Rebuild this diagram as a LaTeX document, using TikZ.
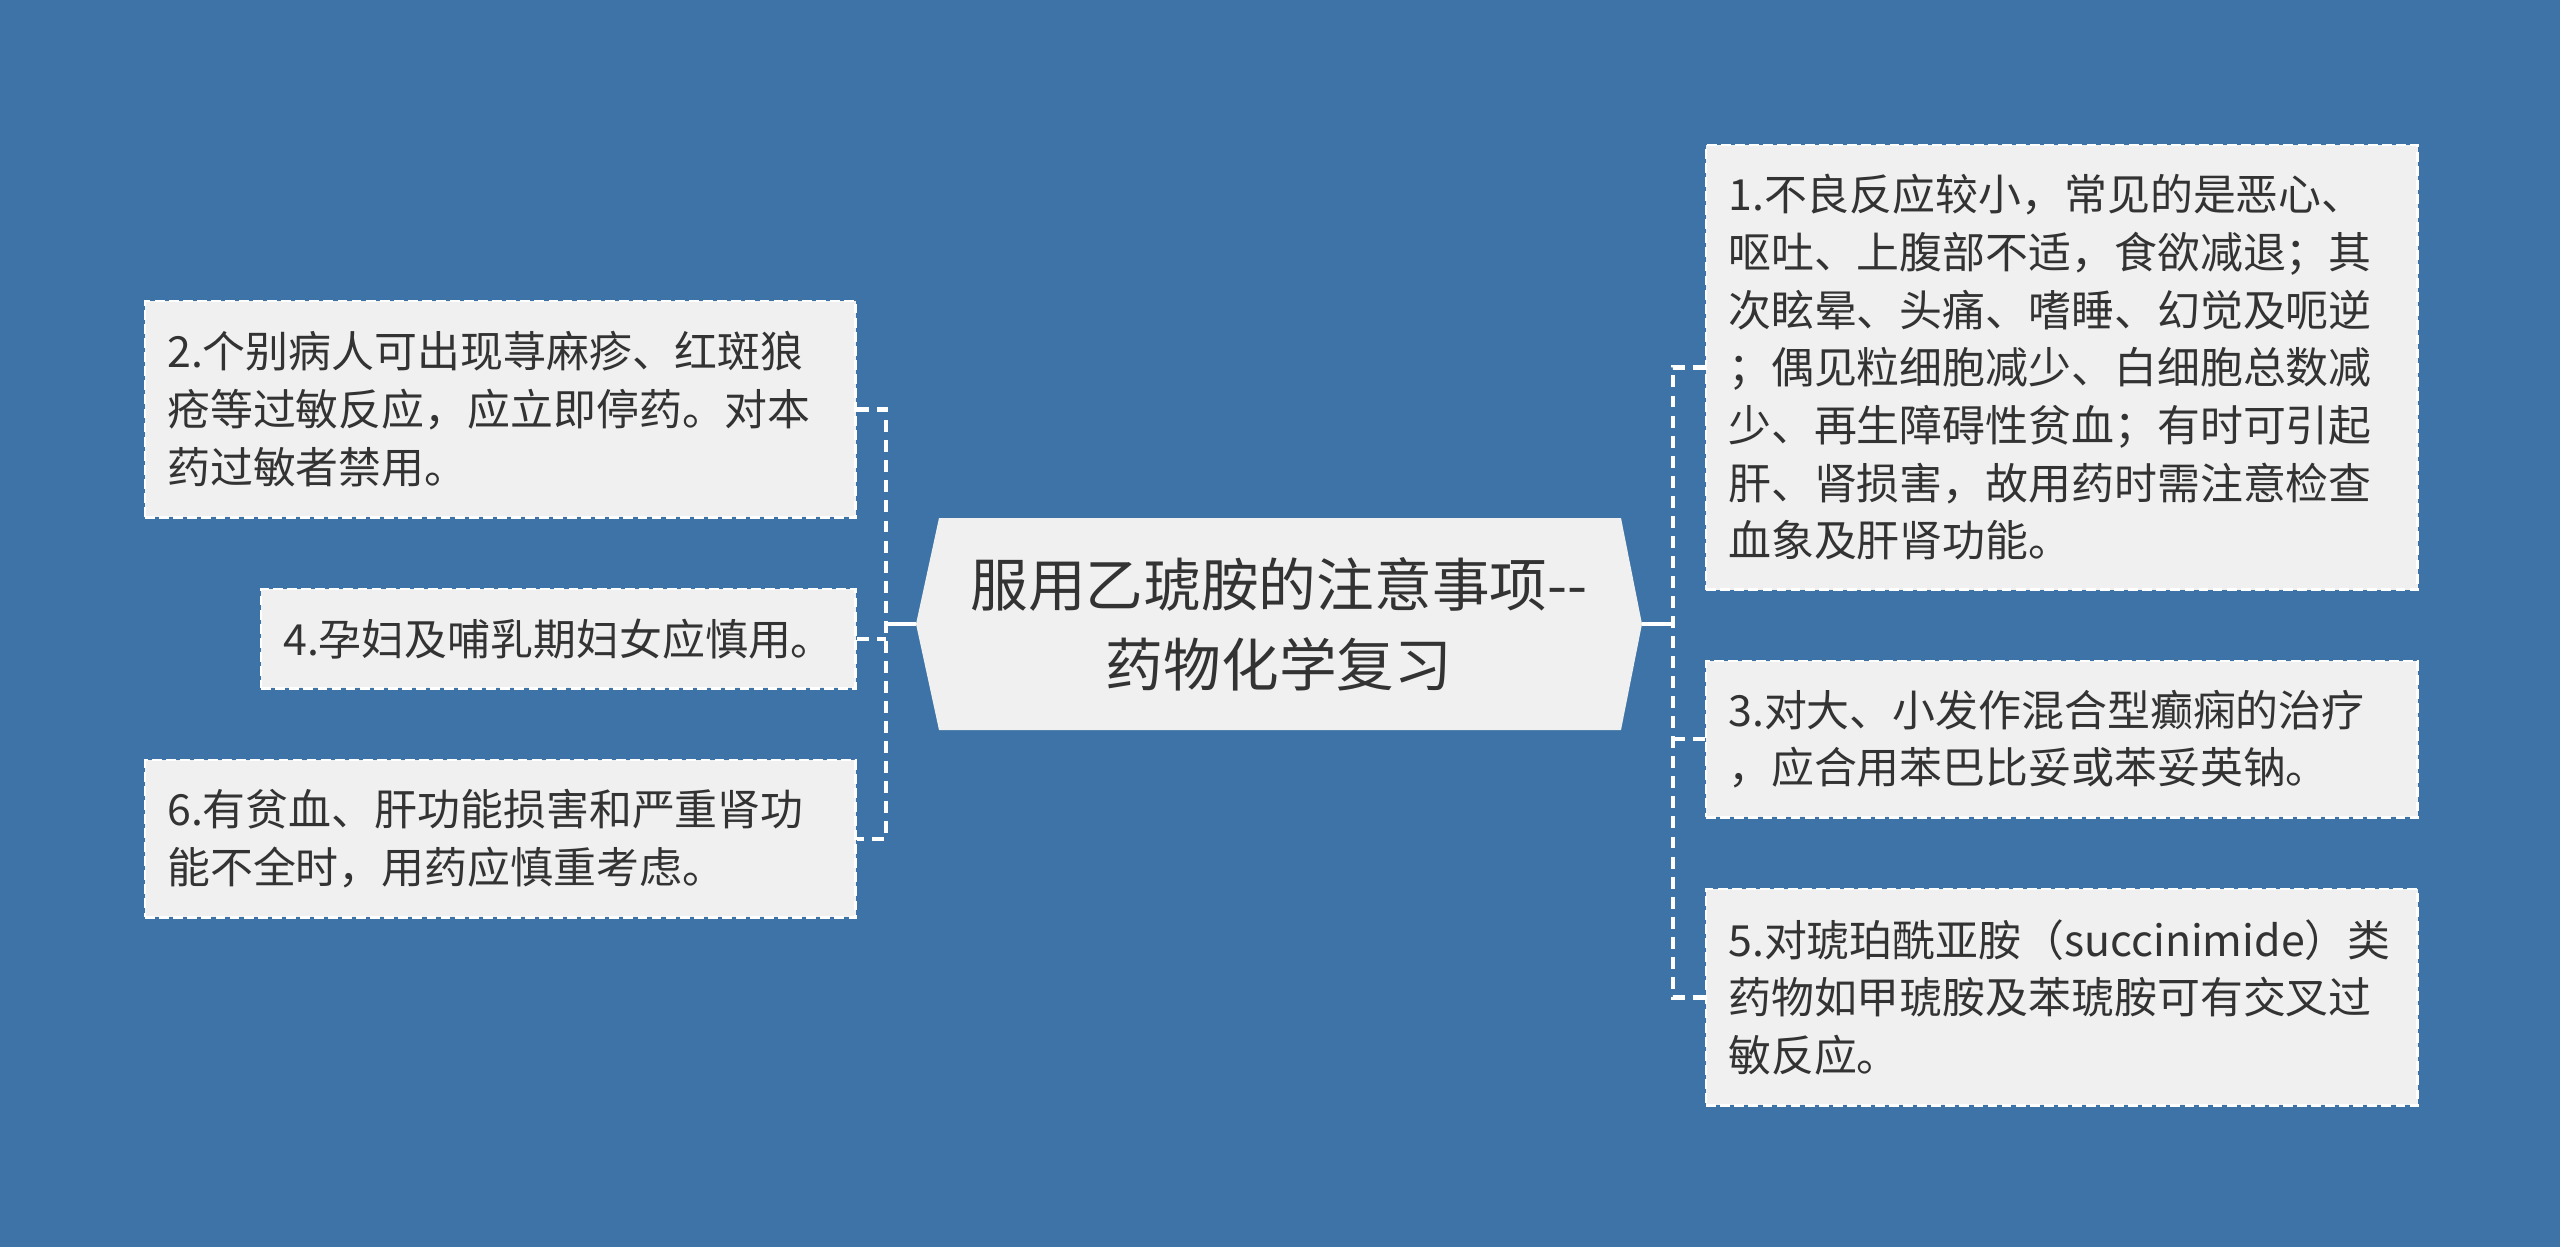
\documentclass[tikz,border=0pt]{standalone}
\usepackage{fontspec}
\setmainfont{Noto Sans CJK SC}
\definecolor{bg}{HTML}{3D73A6}
\definecolor{boxfill}{HTML}{F0F0F0}
\definecolor{txt}{HTML}{333333}
\tikzset{
  leaf/.style={draw=white, fill=boxfill, line width=0.7pt, dash pattern=on 2.8pt off 1.2pt,
    inner xsep=0.22cm, inner ysep=0pt, align=left, anchor=north west, text=txt,
    font=\fontsize{12.2pt}{16.4pt}\selectfont},
  link/.style={draw=white, line width=1.25pt, dash pattern=on 3.4pt off 2.3pt},
  stem/.style={draw=white, line width=1.25pt}
}
\begin{document}
\begin{tikzpicture}[x=0.01cm,y=-0.01cm]
\fill[bg] (0,0) rectangle (2560,1247);
\useasboundingbox (0,0) rectangle (2560,1247);
% central topic
\fill[boxfill] (916,624) -- (939,518) -- (1621,518) -- (1642,624) -- (1621,730) -- (939,730) -- cycle;
\node[text=txt, align=center, font=\fontsize{16.4pt}{22.8pt}\selectfont] (c) at (1279,624) {服用乙琥胺的注意事项-{}-\\药物化学复习};
\coordinate (cl) at (916,624);
\coordinate (cr) at (1642,624);
\coordinate (lj) at (886,624);
\coordinate (rj) at (1673,624);
% left boxes
\node[leaf, text width=6.66cm, minimum height=2.16cm] (b2) at (144,300) {2.个别病人可出现荨麻疹、红斑狼\\疮等过敏反应，应立即停药。对本\\药过敏者禁用。};
\node[leaf, text width=5.50cm, minimum height=0.99cm] (b4) at (260,588) {4.孕妇及哺乳期妇女应慎用。};
\node[leaf, text width=6.66cm, minimum height=1.57cm] (b6) at (144,759) {6.有贫血、肝功能损害和严重肾功\\能不全时，用药应慎重考虑。};
% right boxes
\node[leaf, text width=6.67cm, minimum height=4.44cm] (b1) at (1705,144) {1.不良反应较小，常见的是恶心、\\呕吐、上腹部不适，食欲减退；其\\次眩晕、头痛、嗜睡、幻觉及呃逆\\；偶见粒细胞减少、白细胞总数减\\少、再生障碍性贫血；有时可引起\\肝、肾损害，故用药时需注意检查\\血象及肝肾功能。};
\node[leaf, text width=6.67cm, minimum height=1.56cm] (b3) at (1705,660) {3.对大、小发作混合型癫痫的治疗\\，应合用苯巴比妥或苯妥英钠。};
\node[leaf, text width=6.67cm, minimum height=2.16cm] (b5) at (1705,888) {5.对琥珀酰亚胺（succinimide）类\\药物如甲琥胺及苯琥胺可有交叉过\\敏反应。};
% connectors
\draw[stem] (cl) -- (lj);
\draw[stem] (cr) -- (rj);
\draw[link] (b2.east) -- (b2.east -| lj) -- (b6.east -| lj) -- (b6.east);
\draw[link] (b4.east) -- (b4.east -| lj);
\draw[link] (b1.west) -- (b1.west -| rj) -- (b5.west -| rj) -- (b5.west);
\draw[link] (b3.west) -- (b3.west -| rj);
\end{tikzpicture}
\end{document}
